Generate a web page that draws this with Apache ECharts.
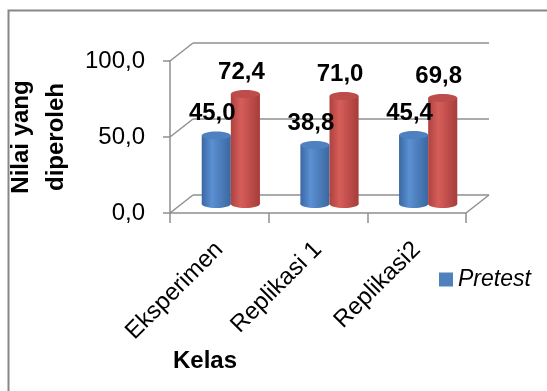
<!DOCTYPE html>
<html>
<head>
<meta charset="utf-8">
<script src="https://cdn.jsdelivr.net/npm/echarts@6/dist/echarts.min.js"></script>
<style>
  html, body { margin: 0; padding: 0; background: #ffffff; }
  #chart { width: 547px; height: 391px; }
</style>
</head>
<body>
<div id="chart"></div>
<script>
// Class means per group
const categories = ['Eksperimen', 'Replikasi 1', 'Replikasi2'];
const pretest = [45.0, 38.8, 45.4];
const posttest = [72.4, 71.0, 69.8];
const valueTicks = [0, 50, 100];

const FONT = 'Liberation Sans';
const fmt = v => v.toFixed(1).replace('.', ',');

// Front plane of the 3-D box and how far the back wall is pushed away
const FRONT = { left: 170, top: 61, width: 296, height: 152 };
const DEPTH = { dx: 23, dy: -18 };
const BAR_FRACTION = 0.295;
const FRAME = '#8f8f8f';

const palettes = {
  blue: { stops: ['#3a68a4', '#5b90d2', '#3b67a0'], top: '#4f80bf', base: '#4f81bd' },
  red:  { stops: ['#ad423f', '#d65e5a', '#a63c39'], top: '#bd4d4a', base: '#c0504d' }
};

function cylinderItem(side, pal) {
  return function (params, api) {
    const cat = api.value(0);
    const val = api.value(1);
    const topPt = api.coord([cat, val]);
    const basePt = api.coord([cat, 0]);
    const bw = api.size([1, 0])[0] * BAR_FRACTION;
    const cx = topPt[0] + side * bw / 2;
    const rx = bw / 2, ry = 4;
    const body = new echarts.graphic.LinearGradient(0, 0, 1, 0, [
      { offset: 0, color: pal.stops[0] },
      { offset: 0.35, color: pal.stops[1] },
      { offset: 1, color: pal.stops[2] }
    ]);
    return {
      type: 'group',
      children: [
        { type: 'rect', z2: 1, shape: { x: cx - rx, y: topPt[1], width: bw, height: basePt[1] - topPt[1] }, style: { fill: body } },
        { type: 'ellipse', z2: 1, shape: { cx: cx, cy: basePt[1], rx: rx, ry: ry }, style: { fill: body } },
        { type: 'ellipse', z2: 2, shape: { cx: cx, cy: topPt[1], rx: rx, ry: ry }, style: { fill: pal.top } },
        { type: 'text', z2: 50, style: {
            text: fmt(val), x: cx - 4, y: topPt[1] - 10,
            align: 'center', verticalAlign: 'bottom',
            font: 'bold 24px "' + FONT + '"', fill: '#000000'
        } }
      ]
    };
  };
}

const hiddenCat = i => ({
  type: 'category', gridIndex: i, data: categories,
  axisLine: { show: false }, axisTick: { show: false }, axisLabel: { show: false }, splitLine: { show: false }
});
const hiddenVal = (i, showSplit) => ({
  type: 'value', gridIndex: i, min: 0, max: 100, interval: 50,
  axisLine: { show: false }, axisTick: { show: false }, axisLabel: { show: false },
  splitLine: { show: showSplit, lineStyle: { color: FRAME, width: 1.5 } }
});

const chart = echarts.init(document.getElementById('chart'), null, { renderer: 'canvas' });

chart.setOption({
  animation: false,
  backgroundColor: '#ffffff',
  textStyle: { fontFamily: FONT },
  title: {
    text: 'Kelas', left: 173, top: 349, padding: 0,
    textStyle: { fontFamily: FONT, fontSize: 24, fontWeight: 'bold', color: '#000000' }
  },
  legend: {
    left: 434, top: 263, itemWidth: 14, itemHeight: 14, itemGap: 8,
    data: [{ name: 'Pretest', icon: 'rect' }],
    textStyle: { fontFamily: FONT, fontSize: 23, fontStyle: 'italic', color: '#000000' }
  },
  grid: [
    { left: FRONT.left, top: FRONT.top, width: FRONT.width, height: FRONT.height, outerBoundsMode: 'none' },
    { left: FRONT.left + DEPTH.dx, top: FRONT.top + DEPTH.dy, width: FRONT.width, height: FRONT.height, outerBoundsMode: 'none' },
    { left: FRONT.left + DEPTH.dx / 2, top: FRONT.top + DEPTH.dy / 2, width: FRONT.width, height: FRONT.height, outerBoundsMode: 'none' }
  ],
  xAxis: [
    {
      type: 'category', gridIndex: 0, data: categories,
      axisLine: { show: true, lineStyle: { color: FRAME, width: 1.5 } },
      axisTick: { show: true, length: 10, lineStyle: { color: FRAME, width: 1.5 } },
      axisLabel: { rotate: 45, margin: 33, fontFamily: FONT, fontSize: 24, color: '#000000', interval: 0 },
      splitLine: { show: false }
    },
    hiddenCat(1),
    hiddenCat(2)
  ],
  yAxis: [
    {
      type: 'value', gridIndex: 0, min: 0, max: 100, interval: 50,
      name: 'Nilai yang\ndiperoleh', nameLocation: 'middle', nameRotate: 90, nameGap: 77,
      nameTextStyle: { fontFamily: FONT, fontSize: 24, fontWeight: 'bold', color: '#000000', lineHeight: 35 },
      axisLine: { show: true, lineStyle: { color: FRAME, width: 1.5 } },
      axisTick: { show: true, length: 7, lineStyle: { color: FRAME, width: 1.5 } },
      axisLabel: { margin: 25, fontFamily: FONT, fontSize: 24, color: '#000000', formatter: v => fmt(v) },
      splitLine: { show: false }
    },
    hiddenVal(1, true),
    hiddenVal(2, false)
  ],
  series: [
    {
      name: 'Pretest', type: 'custom', xAxisIndex: 2, yAxisIndex: 2,
      itemStyle: { color: palettes.blue.base },
      encode: { x: 0, y: 1 },
      renderItem: cylinderItem(-1, palettes.blue),
      data: pretest.map((v, i) => [i, v])
    },
    {
      name: 'Posttest', type: 'custom', xAxisIndex: 2, yAxisIndex: 2,
      itemStyle: { color: palettes.red.base },
      encode: { x: 0, y: 1 },
      renderItem: cylinderItem(1, palettes.red),
      data: posttest.map((v, i) => [i, v])
    }
  ]
});

// Side wall and floor edges joining the front axes to the back wall
const frontY = v => chart.convertToPixel({ yAxisIndex: 0 }, v);
const backY = v => chart.convertToPixel({ yAxisIndex: 1 }, v);
const xL = FRONT.left, xR = FRONT.left + FRONT.width;
const edges = valueTicks.map(v => [xL, frontY(v), xL + DEPTH.dx, backY(v)]);
edges.push([xR, frontY(0), xR + DEPTH.dx, backY(0)]);

chart.setOption({
  graphic: [
    {
      type: 'rect', id: 'outer-frame', silent: true, z: 0,
      shape: { x: 8.5, y: 10.5, width: 700, height: 600 },
      style: { fill: null, stroke: '#878787', lineWidth: 2 }
    }
  ].concat(edges.map((e, i) => ({
    type: 'line', id: 'edge-' + i, silent: true, z: 1,
    shape: { x1: e[0], y1: e[1], x2: e[2], y2: e[3] },
    style: { stroke: FRAME, lineWidth: 1.5 }
  })))
});
</script>
</body>
</html>
